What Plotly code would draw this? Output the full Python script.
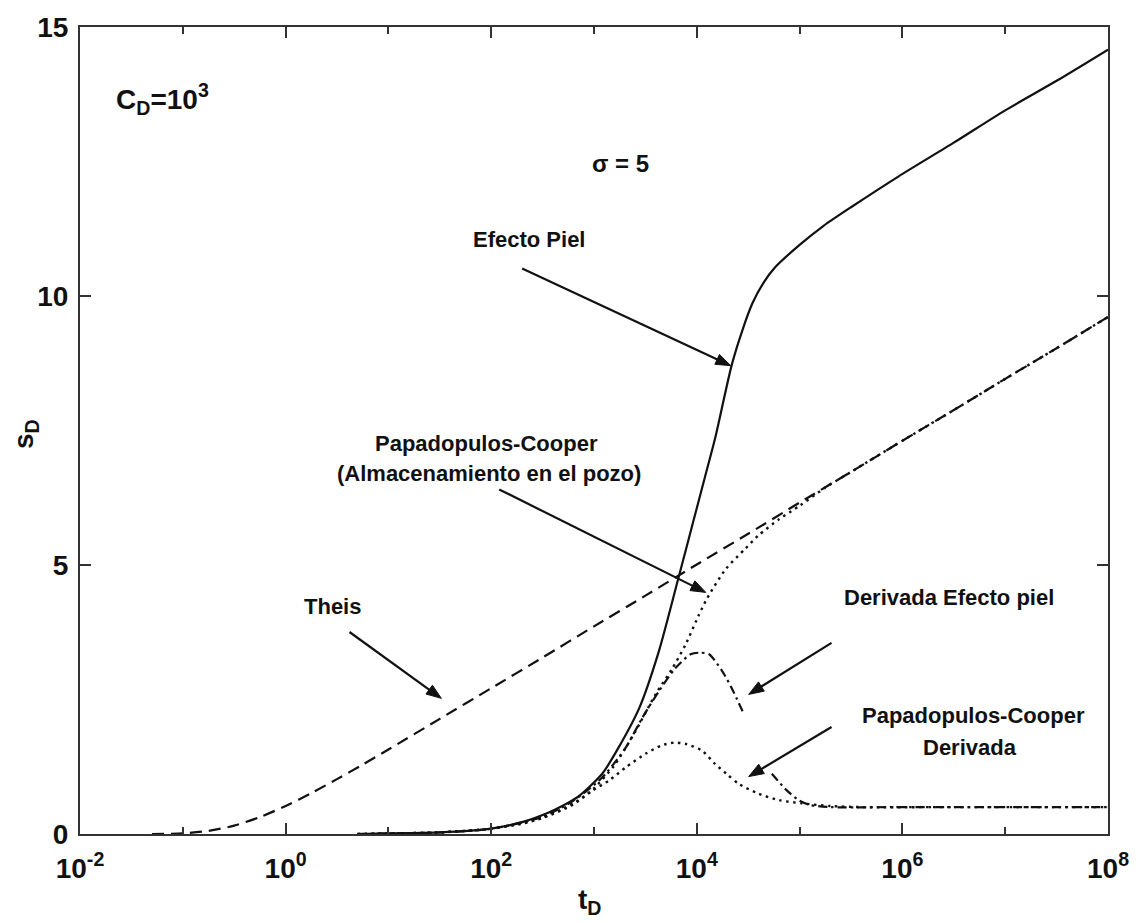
import math
import plotly.graph_objects as go

# ---------------- data ----------------
# log10(t_D) positions and s_D values
theis_logt = [-1.3, -1.0, -0.75, -0.5, -0.25, 0.0, 0.25, 0.5, 0.75, 1.0, 1.5, 2.0, 2.5, 3.0,
              3.5, 4.0, 4.5, 5.0, 5.5, 6.0, 6.5, 7.0, 7.5, 8.0]
theis_s = [0.0, 0.012, 0.058, 0.155, 0.315, 0.52, 0.76, 1.02, 1.29, 1.57, 2.14, 2.71, 3.28, 3.86,
           4.43, 5.01, 5.58, 6.16, 6.73, 7.31, 7.88, 8.46, 9.03, 9.61]

skin_logt = [0.7, 1.0, 1.5, 2.0, 2.3, 2.56, 2.7, 2.85, 3.08, 3.24, 3.44, 3.63, 3.82, 3.97, 4.08,
             4.18, 4.34, 4.45, 4.54, 4.65, 4.76, 5.0, 5.23, 5.5, 5.96, 6.5, 7.0, 7.5, 8.0]
skin_s = [0.0, 0.01, 0.03, 0.1, 0.22, 0.40, 0.53, 0.70, 1.12, 1.61, 2.34, 3.39, 4.75, 5.84, 6.64,
          7.37, 8.72, 9.4, 9.86, 10.25, 10.53, 10.95, 11.3, 11.65, 12.22, 12.85, 13.45, 14.0, 14.58]

pc_logt = [0.7, 1.0, 1.5, 2.0, 2.3, 2.5, 2.7, 2.85, 3.0, 3.2, 3.4, 3.6, 3.76, 3.89, 4.02, 4.1,
           4.28, 4.47, 4.6, 4.8, 5.0, 5.25, 5.5, 6.0, 6.5, 7.0, 7.5, 8.0]
pc_s = [0.0, 0.01, 0.03, 0.1, 0.19, 0.3, 0.47, 0.63, 0.85, 1.28, 1.9, 2.6, 3.07, 3.52, 4.07, 4.38,
        4.92, 5.3, 5.55, 5.85, 6.1, 6.44, 6.73, 7.31, 7.88, 8.46, 9.03, 9.61]

dskin_logt = [0.7, 1.0, 1.5, 2.0, 2.5, 2.8, 3.08, 3.31, 3.47, 3.63, 3.79, 3.94, 4.03, 4.12, 4.25,
              4.34, 4.46, None, 4.73, 4.87, 4.99, 5.1, 5.3, 6.0, 7.0, 8.0]
dskin_s = [0.0, 0.01, 0.03, 0.1, 0.32, 0.62, 1.05, 1.61, 2.16, 2.65, 3.08, 3.34, 3.37, 3.34, 3.02,
           2.71, 2.22, None, 1.12, 0.82, 0.63, 0.54, 0.5, 0.5, 0.5, 0.5]

dpc_logt = [0.7, 1.0, 1.5, 2.0, 2.5, 2.8, 2.98, 3.15, 3.31, 3.5, 3.65, 3.78, 3.9, 4.05, 4.18, 4.3,
            4.41, 4.6, 4.8, 5.02, 5.3, 5.6, 6.5, 8.0]
dpc_s = [0.0, 0.01, 0.03, 0.1, 0.3, 0.55, 0.8, 1.0, 1.24, 1.49, 1.64, 1.7, 1.67, 1.55, 1.3, 1.1,
         0.93, 0.75, 0.63, 0.57, 0.52, 0.5, 0.5, 0.5]

x_tickvals = [1e-2, 1e0, 1e2, 1e4, 1e6, 1e8]
x_ticktext = ["10<sup>-2</sup>", "10<sup>0</sup>", "10<sup>2</sup>", "10<sup>4</sup>",
              "10<sup>6</sup>", "10<sup>8</sup>"]
x_minor = [1e-1, 1e1, 1e3, 1e5, 1e7]
y_tickvals = [0, 5, 10, 15]


def to_t(logs):
    return [None if v is None else 10 ** v for v in logs]


FONT = "Liberation Sans, Arial, Helvetica, sans-serif"
INK = "#111111"
SM = 0.7

fig = go.Figure()
fig.add_trace(go.Scatter(x=to_t(theis_logt), y=theis_s, mode="lines",
                         line=dict(color=INK, width=2.2, dash="12px,7px", shape="spline", smoothing=SM),
                         name="Theis"))
fig.add_trace(go.Scatter(x=to_t(pc_logt), y=pc_s, mode="lines",
                         line=dict(color=INK, width=2.4, dash="2.5px,4.5px", shape="spline", smoothing=SM),
                         name="PC"))
fig.add_trace(go.Scatter(x=to_t(skin_logt), y=skin_s, mode="lines",
                         line=dict(color=INK, width=2.2, shape="spline", smoothing=SM),
                         name="Efecto Piel"))
fig.add_trace(go.Scatter(x=to_t(dskin_logt), y=dskin_s, mode="lines", connectgaps=False,
                         line=dict(color=INK, width=2.2, dash="9px,4px,2.5px,4px", shape="spline",
                                   smoothing=SM),
                         name="dSkin"))
fig.add_trace(go.Scatter(x=to_t(dpc_logt), y=dpc_s, mode="lines",
                         line=dict(color=INK, width=2.4, dash="2.5px,4.5px", shape="spline", smoothing=SM),
                         name="dPC"))

L, R, T, B = 80, 1110, 19, 834
W, H = 1141, 923


def P(xp, yp):
    return (xp - L) / (R - L), (B - yp) / (B - T)


ann = []
shapes = []


def text(s, xp, yp, size=22, angle=0, yanchor="middle"):
    x, y = P(xp, yp)
    ann.append(dict(text=s, x=x, y=y, xref="paper", yref="paper", showarrow=False,
                    xanchor="center", yanchor=yanchor, textangle=angle,
                    font=dict(family=FONT, size=size, color=INK, weight="bold")))


def arrow(x0, y0, x1, y1, head=15, half=5.5):
    d = math.hypot(x1 - x0, y1 - y0)
    ux, uy = (x1 - x0) / d, (y1 - y0) / d
    bx, by = x1 - ux * head, y1 - uy * head
    a0, a1 = P(x0, y0), P(bx + ux * 2, by + uy * 2)
    shapes.append(dict(type="line", xref="paper", yref="paper", x0=a0[0], y0=a0[1],
                       x1=a1[0], y1=a1[1], line=dict(color=INK, width=2.2)))
    px_, py_ = -uy, ux
    pts = [(x1, y1), (bx + px_ * half, by + py_ * half), (bx - px_ * half, by - py_ * half)]
    pp = [P(a, b) for a, b in pts]
    path = "M {} {} L {} {} L {} {} Z".format(pp[0][0], pp[0][1], pp[1][0], pp[1][1], pp[2][0], pp[2][1])
    shapes.append(dict(type="path", xref="paper", yref="paper", path=path,
                       fillcolor=INK, line=dict(color=INK, width=1)))


text("C<sub>D</sub>=10<sup>3</sup>", 163, 92, size=28)
text("σ = 5", 622, 157, size=24)
text("Efecto Piel", 530, 234)
arrow(523, 263, 732, 361)
text("Papadopulos-Cooper", 487, 440)
text("(Almacenamiento en el pozo)", 490, 470)
arrow(500, 486, 707, 590)
text("Theis", 333, 604)
arrow(350, 630, 442, 697)
text("Derivada Efecto piel", 951, 595)
arrow(833, 641, 750, 693)
text("Papadopulos-Cooper", 975, 714)
text("Derivada", 972, 747)
arrow(833, 726, 750, 776)
text("t<sub>D</sub>", 590, 922, size=28, yanchor="bottom")
text("s<sub>D</sub>", 26, 430, size=28, angle=-90)

axis_common = dict(showgrid=False, zeroline=False, showline=True, linecolor="#333333",
                   linewidth=2, mirror="ticks", ticks="inside", tickcolor="#333333",
                   tickwidth=2, ticklen=11,
                   tickfont=dict(family=FONT, size=28, color=INK, weight="bold"))

fig.update_layout(
    width=W, height=H, autosize=False,
    margin=dict(l=L, r=W - R, t=T, b=H - B),
    paper_bgcolor="white", plot_bgcolor="white",
    showlegend=False,
    annotations=ann,
    shapes=shapes,
    xaxis=dict(type="log", range=[-2, 8], tickmode="array", tickvals=x_tickvals,
               ticktext=x_ticktext, ticklabelstandoff=8,
               minor=dict(tickmode="array", tickvals=x_minor, ticks="inside", ticklen=7,
                          tickwidth=2, tickcolor="#333333"),
               **axis_common),
    yaxis=dict(range=[0, 15], tickmode="array", tickvals=y_tickvals, ticklabelstandoff=4,
               **axis_common),
)

fig.write_html("out.html")
